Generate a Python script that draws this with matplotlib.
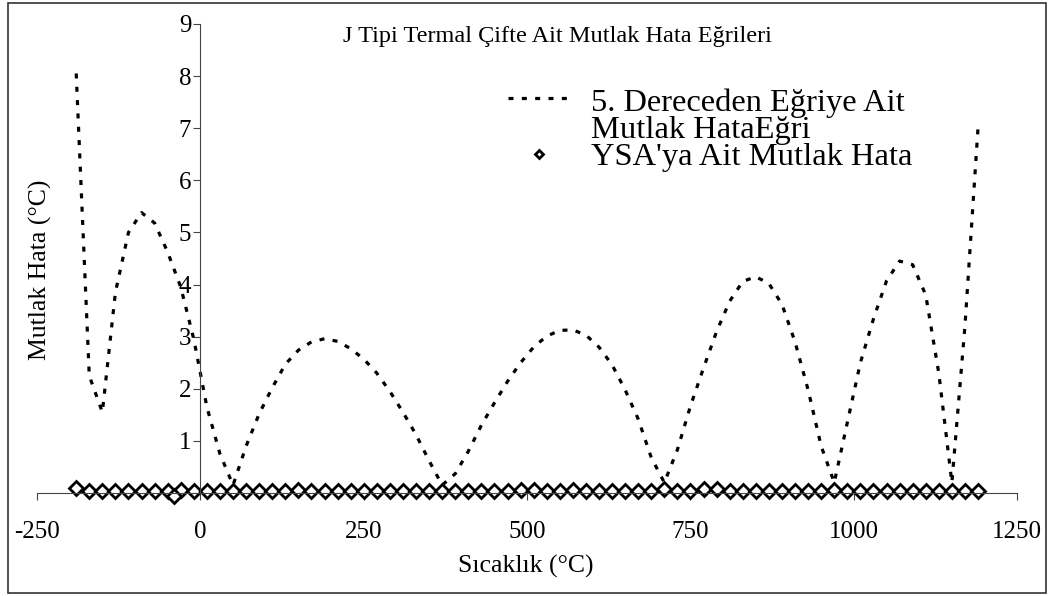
import numpy as np
import matplotlib
matplotlib.use("Agg")
import matplotlib.pyplot as plt
from matplotlib.patches import Rectangle
from matplotlib.legend_handler import HandlerLine2D

plt.rcParams['font.family'] = ['Liberation Serif', 'DejaVu Serif']
plt.rcParams['lines.scale_dashes'] = False
plt.rcParams['axes.unicode_minus'] = False

# sicaklik noktalari (20 derece aralik)
sicaklik = list(range(-190, 1191, 20))

# 5. dereceden egriye ait mutlak hata
polinom_hata = [8.05, 2.25, 1.55, 3.85, 5.0, 5.38, 5.18, 4.62, 3.95, 2.95,
                1.65, 0.75, 0.15, 0.9, 1.52, 2.02, 2.47, 2.74, 2.9, 2.96,
                2.91, 2.77, 2.57, 2.3, 1.95, 1.55, 1.12, 0.62, 0.15, 0.37,
                0.8, 1.3, 1.73, 2.14, 2.5, 2.8, 3.01, 3.12, 3.13, 3.03,
                2.8, 2.46, 1.98, 1.42, 0.68, 0.2, 0.83, 1.67, 2.4, 3.1,
                3.68, 4.06, 4.15, 4.02, 3.62, 2.9, 1.98, 0.9, 0.2, 1.35,
                2.5, 3.34, 4.07, 4.45, 4.38, 3.8, 2.3, 0.2, 3.2, 7.0]

# YSA'ya ait mutlak hata
ysa_x = sicaklik + [-40]
ysa_hata = [0.1, 0.04, 0.04, 0.03, 0.03, 0.03, 0.03, 0.04, 0.05, 0.03,
            0.03, 0.03, 0.03, 0.04, 0.03, 0.04, 0.04, 0.05, 0.03, 0.03,
            0.03, 0.04, 0.03, 0.03, 0.03, 0.04, 0.04, 0.03, 0.03, 0.03,
            0.04, 0.03, 0.04, 0.03, 0.06, 0.05, 0.03, 0.04, 0.05, 0.04,
            0.03, 0.03, 0.04, 0.03, 0.04, 0.07, 0.03, 0.03, 0.08, 0.07,
            0.04, 0.04, 0.03, 0.03, 0.03, 0.04, 0.04, 0.03, 0.05, 0.03,
            0.04, 0.03, 0.04, 0.03, 0.03, 0.03, 0.03, 0.04, 0.03, 0.04,
            -0.05]

x_ticks = [-250, 0, 250, 500, 750, 1000, 1250]
y_ticks = [1, 2, 3, 4, 5, 6, 7, 8, 9]


class UstCizgi(HandlerLine2D):
    # iki satirlik etikette cizgiyi ilk satira hizala
    def create_artists(self, legend, orig_handle, xdescent, ydescent,
                       width, height, fontsize, trans):
        return super().create_artists(legend, orig_handle, xdescent,
                                      ydescent - 26, width, height,
                                      fontsize, trans)


fig = plt.figure(figsize=(10.54, 5.96), dpi=100)
ax = fig.add_axes([0.0351, 0.1728, 0.930, 0.787])

egri, = ax.plot(sicaklik, polinom_hata, color='black', lw=2.3, dashes=(3.6, 6.0),
                label="5. Dereceden Eğriye Ait\nMutlak HataEğri")
ax.plot(ysa_x, ysa_hata, ls='none', marker='D', ms=7.5, mfc='white',
        mec='black', mew=2.0, clip_on=False, label="YSA'ya Ait Mutlak Hata")

ax.set_xlim(-250, 1250)
ax.set_ylim(0, 9)
ax.set_xticks(x_ticks)
ax.set_yticks(y_ticks)

ax.spines['top'].set_visible(False)
ax.spines['right'].set_visible(False)
ax.spines['left'].set_position(('data', 0))
for s in ['left', 'bottom']:
    ax.spines[s].set_color('#444444')
    ax.spines[s].set_linewidth(0.8)
ax.tick_params(axis='both', labelsize=18, colors='#444444', labelcolor='black',
               length=5, width=0.8)
ax.tick_params(axis='x', pad=15)
ax.tick_params(axis='y', pad=1.5)

fig.text(0.529, 0.938, 'J Tipi Termal Çifte Ait Mutlak Hata Eğrileri',
         ha='center', va='center', fontsize=17.5)
fig.text(0.499, 0.05, 'Sıcaklık (°C)', ha='center', va='center', fontsize=18.5)
fig.text(0.038, 0.547, 'Mutlak Hata (°C)', ha='center', va='center',
         rotation=90, fontsize=18.5)

leg = ax.legend(loc='upper left', bbox_to_anchor=(508 / 1054, 1 - 88 / 596),
                bbox_transform=fig.transFigure, frameon=False, fontsize=23.4,
                handlelength=1.9, handletextpad=0.65, borderpad=0,
                borderaxespad=0, labelspacing=-0.1, numpoints=1,
                markerscale=0.6, handler_map={egri: UstCizgi()})
for t in leg.get_texts():
    t.set_linespacing(0.95)

fig.patches.append(Rectangle((0.008, 0.005), 0.984, 0.99, fill=False,
                             edgecolor='#333333', lw=1.2,
                             transform=fig.transFigure))

fig.savefig('out.png', dpi=100)
